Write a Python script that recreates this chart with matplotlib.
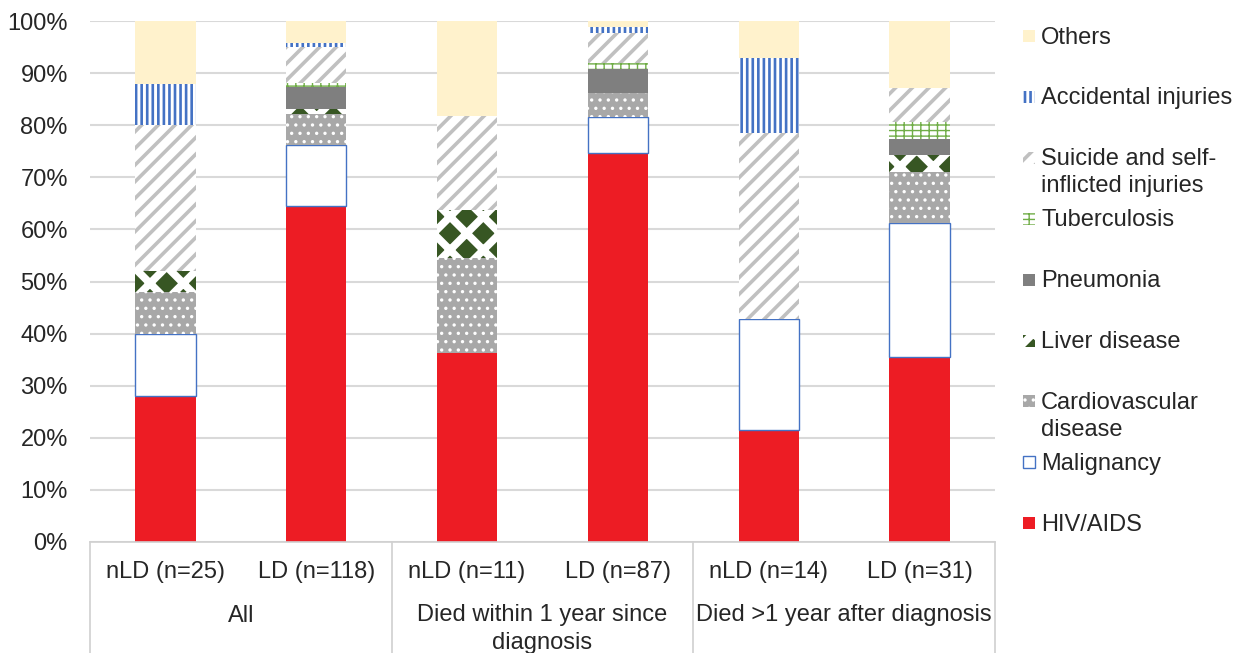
import numpy as np
import matplotlib
matplotlib.use("Agg")
import matplotlib.pyplot as plt
from matplotlib.patches import Rectangle

plt.rcParams['font.family'] = ['Liberation Sans', 'DejaVu Sans']
plt.rcParams['text.color'] = '#262626'

W, H = 1242, 653

categories = ["nLD (n=25)", "LD (n=118)", "nLD (n=11)", "LD (n=87)", "nLD (n=14)", "LD (n=31)"]
groups = ["All", "Died within 1 year since\ndiagnosis", "Died >1 year after diagnosis"]

# share of deaths (%) per cause, stacked bottom to top
hiv_aids     = [28.00, 64.41, 36.36, 74.71, 21.43, 35.48]
malignancy   = [12.00, 11.86,  0.00,  6.90, 21.43, 25.81]
cardiovasc   = [ 8.00,  5.93, 18.18,  4.60,  0.00,  9.68]
liver        = [ 4.00,  0.85,  9.09,  0.00,  0.00,  3.23]
pneumonia    = [ 0.00,  4.24,  0.00,  4.60,  0.00,  3.23]
tuberculosis = [ 0.00,  0.85,  0.00,  1.15,  0.00,  3.23]
suicide      = [28.00,  6.78, 18.18,  5.75, 35.71,  6.45]
accidental   = [ 8.00,  0.85,  0.00,  1.15, 14.29,  0.00]
others       = [12.00,  4.24, 18.18,  1.15,  7.14, 12.90]

series = [
    ("HIV/AIDS", hiv_aids, dict(facecolor='#ED1C24', edgecolor='#ED1C24', linewidth=0), None),
    ("Malignancy", malignancy, dict(facecolor='white', edgecolor='#4472C4', linewidth=1.0), None),
    ("Cardiovascular\ndisease", cardiovasc, dict(facecolor='#A8A8A8', edgecolor='white', hatch='..', linewidth=0), 1.2),
    ("Liver disease", liver, dict(facecolor='#375623', edgecolor='white', hatch='x', linewidth=0), 5.5),
    ("Pneumonia", pneumonia, dict(facecolor='#7F7F7F', edgecolor='#7F7F7F', linewidth=0), None),
    ("Tuberculosis", tuberculosis, dict(facecolor='white', edgecolor='#70AD47', hatch='---||', linewidth=0), 1.0),
    ("Suicide and self-\ninflicted injuries", suicide, dict(facecolor='white', edgecolor='#C0C0C0', hatch='//', linewidth=0), 2.6),
    ("Accidental injuries", accidental, dict(facecolor='white', edgecolor='#4472C4', hatch='|||', linewidth=0), 1.9),
    ("Others", others, dict(facecolor='#FFF2CC', edgecolor='#FFF2CC', linewidth=0), None),
]

LINE_H = 27  # px between text lines


def set_hatch_lw(patches, lw):
    if lw is None:
        return
    for p in patches:
        if hasattr(p, 'set_hatch_linewidth'):
            p.set_hatch_linewidth(lw)


def fig_text_lines(xp, yp, s, ha):
    # first baseline at pixel yp, further lines below
    for j, line in enumerate(s.split("\n")):
        fig.text(xp / W, 1 - (yp + j * LINE_H) / H, line, ha=ha, va='baseline', fontsize=17)


fig = plt.figure(figsize=(W / 100, H / 100), dpi=100)
ax = fig.add_axes([90 / W, 1 - 542 / H, 905 / W, 521 / H])

x = np.arange(len(categories))
bottom = np.zeros(len(categories))
for label, vals, style, hlw in series:
    vals = np.array(vals)
    idx = np.nonzero(vals)[0]
    with plt.rc_context({'hatch.linewidth': hlw or 1.0}):
        bars = ax.bar(x[idx], vals[idx], 0.4, bottom=bottom[idx], **style)
    set_hatch_lw(bars, hlw)
    bottom += vals

ax.set_xlim(-0.5, 5.5)
ax.set_ylim(0, 100)
ax.set_yticks(np.arange(0, 101, 10))
ax.set_yticklabels([f"{v}%" for v in range(0, 101, 10)])
ax.set_xticks(x)
ax.set_xticklabels(categories)
ax.tick_params(axis='both', length=0, labelsize=17, colors='#262626')
ax.tick_params(axis='y', pad=16)
ax.tick_params(axis='x', pad=14)
ax.yaxis.grid(True, color='#D9D9D9', linewidth=1.5)
ax.set_axisbelow(True)
for s in ['left', 'right', 'top']:
    ax.spines[s].set_visible(False)
ax.spines['bottom'].set_color('#D0D0D0')
ax.spines['bottom'].set_linewidth(1.2)

# group separators and labels below the axis
trans = ax.get_xaxis_transform()
low = -(H - 542) / 521
for xs in [-0.5, 1.5, 3.5, 5.5]:
    ax.plot([xs, xs], [0, low], color='#D0D0D0', linewidth=1.2, transform=trans, clip_on=False)
for i, g in enumerate(groups):
    gx = ax.transData.transform((2 * i + 0.5, 0))[0]
    fig_text_lines(gx, 621.5, g, 'center')

# legend on the right, one slot per cause
for k, (label, vals, style, hlw) in enumerate(reversed(series)):
    yc = 36 + k * 60.9
    with plt.rc_context({'hatch.linewidth': hlw or 1.0}):
        r = Rectangle((1023 / W, 1 - (yc + 6) / H), 12 / W, 12 / H, transform=fig.transFigure, **style)
    set_hatch_lw([r], hlw)
    fig.add_artist(r)
    fig_text_lines(1041, yc + 7.5, label, 'left')

fig.savefig("out.png", dpi=100)
